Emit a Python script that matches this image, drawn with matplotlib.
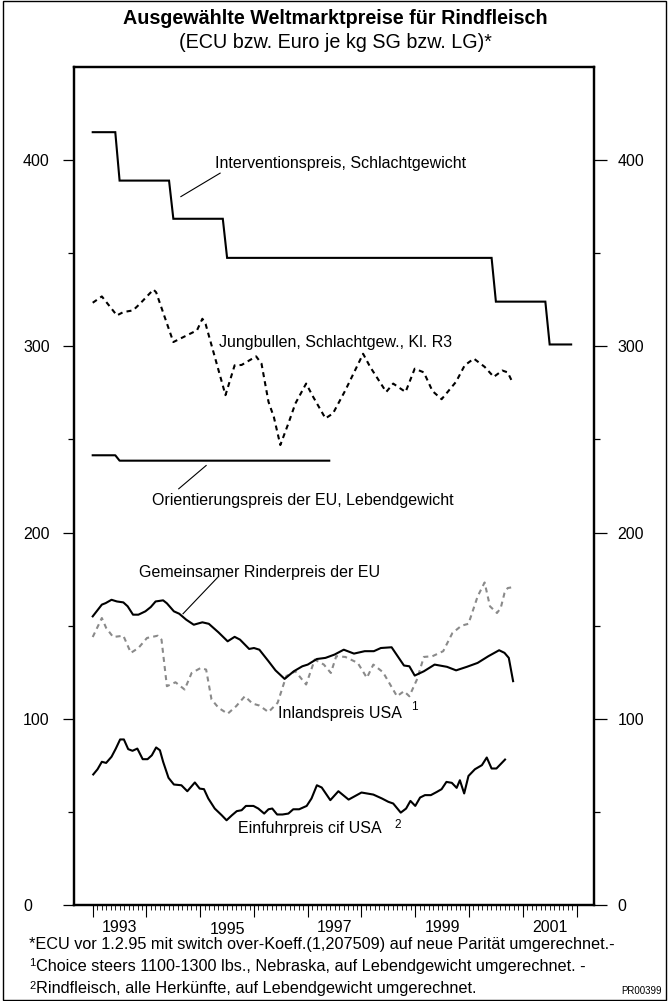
import matplotlib
matplotlib.use('Agg')
import matplotlib.pyplot as plt
import matplotlib.transforms as mtransforms
from matplotlib.patches import Rectangle
import numpy as np

plt.rcParams['font.family'] = ['Liberation Sans', 'DejaVu Sans']

# ---------------- data ----------------
interv_years = [1993.0, 1993.42, 1993.5, 1994.42, 1994.5, 1995.42, 1995.5,
                2000.42, 2000.5, 2001.42, 2001.5, 2001.9]
interv_vals = [415, 415, 389, 389, 368.5, 368.5, 347.5, 347.5, 324, 324, 301, 301]

orient_years = [1993.0, 1993.42, 1993.5, 1997.4]
orient_vals = [241.5, 241.5, 238.6, 238.6]

jb_years = [1993.0, 1993.17, 1993.45, 1993.57, 1993.75, 1993.88, 1994.13, 1994.18,
            1994.5, 1994.94, 1995.04, 1995.1, 1995.47, 1995.64, 1995.77, 1996.04,
            1996.14, 1996.27, 1996.37, 1996.49, 1996.64, 1996.77, 1996.97, 1997.1,
            1997.33, 1997.47, 1997.7, 1998.03, 1998.16, 1998.36, 1998.46, 1998.59,
            1998.69, 1998.82, 1998.99, 1999.16, 1999.32, 1999.49, 1999.76, 1999.92,
            2000.09, 2000.29, 2000.46, 2000.62, 2000.72, 2000.82]
jb_vals = [323.4, 326.8, 316.6, 318.4, 319.3, 322.9, 330.5, 329,
           302.3, 308.6, 314.8, 312, 273.8, 289.8, 290, 294.6,
           290.7, 270.2, 262, 247, 258.6, 269.3, 280, 272.9,
           261.3, 264, 276.4, 296, 289, 280, 275.5, 280,
           278, 275.5, 288, 286, 276, 271.6, 281, 289.8,
           293.4, 289, 283.6, 287, 286, 280]

eu_years = [1993.0, 1993.17, 1993.24, 1993.35, 1993.45, 1993.57, 1993.65, 1993.75,
            1993.85, 1993.98, 1994.08, 1994.17, 1994.31, 1994.38, 1994.51, 1994.61,
            1994.74, 1994.88, 1994.94, 1995.04, 1995.16, 1995.34, 1995.51, 1995.64,
            1995.74, 1995.91, 1996.0, 1996.1, 1996.27, 1996.4, 1996.57, 1996.74,
            1996.9, 1997.0, 1997.17, 1997.33, 1997.5, 1997.67, 1997.86, 1998.06,
            1998.23, 1998.36, 1998.56, 1998.79, 1998.89, 1998.99, 1999.16, 1999.36,
            1999.59, 1999.76, 1999.96, 2000.16, 2000.36, 2000.56, 2000.66, 2000.74,
            2000.82]
eu_vals = [155, 161.3, 162.1, 163.9, 163, 162.5, 160.4, 155.9,
           155.9, 157.7, 160, 163, 163.6, 162, 157.7, 156.4,
           153.2, 150.5, 151, 151.8, 151, 146.4, 141.6, 144,
           142.5, 137.5, 138, 137.1, 130.9, 126, 121.4, 125.5,
           128.2, 129.1, 132.1, 132.7, 134.5, 137.1, 135, 136.3,
           136.3, 138, 138.4, 128.6, 128.2, 123.2, 125.5, 129.1,
           127.9, 126, 127.9, 130, 133.6, 136.8, 135.4, 132.7,
           120.2]

usa_years = [1993.0, 1993.17, 1993.25, 1993.38, 1993.57, 1993.71, 1993.85, 1994.01,
             1994.21, 1994.28, 1994.38, 1994.54, 1994.71, 1994.84, 1995.01, 1995.11,
             1995.21, 1995.34, 1995.51, 1995.67, 1995.83, 1995.97, 1996.1, 1996.27,
             1996.44, 1996.6, 1996.77, 1996.97, 1997.13, 1997.3, 1997.43, 1997.53,
             1997.7, 1997.93, 1998.1, 1998.22, 1998.4, 1998.66, 1998.79, 1998.89,
             1999.03, 1999.16, 1999.32, 1999.52, 1999.69, 1999.86, 1999.99, 2000.16,
             2000.29, 2000.39, 2000.52, 2000.59, 2000.66, 2000.72, 2000.82]
usa_vals = [143.9, 154.1, 148.8, 143.9, 144.6, 135.4, 138, 143.4,
            144.6, 142.5, 117.5, 119.6, 115.7, 124.6, 127.3, 126.4,
            110.4, 105.9, 102.7, 106.8, 112.1, 108.2, 107.1, 103.6,
            108.6, 122.9, 125.5, 118.4, 131.8, 129.1, 124.6, 133.6,
            133.2, 130, 122, 129.1, 125, 112.1, 114.8, 112.1,
            121, 133.2, 133.6, 136.3, 146, 150, 151, 165.7,
            173.2, 160.4, 156.8, 159.5, 167.5, 170.2, 170.7]

imp_years = [1993.01, 1993.09, 1993.17, 1993.25, 1993.35, 1993.43, 1993.51, 1993.58,
             1993.66, 1993.74, 1993.83, 1993.93, 1994.02, 1994.1, 1994.18, 1994.25,
             1994.31, 1994.41, 1994.51, 1994.65, 1994.76, 1994.9, 1994.99, 1995.07,
             1995.15, 1995.27, 1995.4, 1995.49, 1995.59, 1995.68, 1995.77, 1995.85,
             1995.99, 1996.08, 1996.19, 1996.27, 1996.34, 1996.43, 1996.53, 1996.64,
             1996.73, 1996.84, 1996.98, 1997.07, 1997.17, 1997.26, 1997.42, 1997.57,
             1997.76, 1998.0, 1998.22, 1998.38, 1998.5, 1998.59, 1998.73, 1998.83,
             1998.91, 1999.0, 1999.09, 1999.18, 1999.29, 1999.4, 1999.49, 1999.58,
             1999.68, 1999.77, 1999.83, 1999.91, 1999.99, 2000.11, 2000.24, 2000.33,
             2000.42, 2000.51, 2000.67]
imp_vals = [70.1, 72.9, 76.9, 76.3, 79.6, 84, 88.9, 88.9,
            83.7, 82.8, 84, 78.3, 78.3, 80.4, 84.6, 83.1,
            76.9, 68.3, 64.7, 64.3, 61.1, 65.8, 62.5, 62.2,
            57.2, 51.8, 48.2, 45.5, 48.2, 50.4, 50.9, 53.2,
            53.2, 51.8, 49.1, 51.4, 51.8, 48.6, 48.6, 49.1,
            51.4, 51.4, 53.2, 57.2, 64.3, 63.1, 56.3, 61.1,
            56.6, 60.4, 59.3, 57.2, 55.4, 54.5, 49.6, 51.8,
            55.9, 53.2, 57.7, 59, 59, 60.7, 62.2, 66.1,
            65.6, 62.9, 67, 59.9, 69.3, 72.9, 75.1, 79.2,
            73.3, 73.3, 78.1]

year_labels = ['1993', '1995', '1997', '1999', '2001']
year_label_pos = [1993.5, 1995.5, 1997.5, 1999.5, 2001.5]
y_major = [0, 100, 200, 300, 400]
y_minor = [50, 150, 250, 350]

# ---------------- figure ----------------
W, H = 670, 1001
fig = plt.figure(figsize=(6.7, 10.01), dpi=100)
fig.patch.set_facecolor('white')
fig.patches.append(Rectangle((3 / W, 1 / H), 663 / W, 999 / H, transform=fig.transFigure,
                             fill=False, edgecolor='black', linewidth=1.0))

def fx(px):
    return px / W

def fy(py):
    return 1 - py / H

AX_L, AX_R, AX_T, AX_B = 74, 594, 67, 905
ax = fig.add_axes([fx(AX_L), fy(AX_B), fx(AX_R) - fx(AX_L), fy(AX_T) - fy(AX_B)])
ax.set_xlim(1992.652, 2002.325)
ax.set_ylim(0, 450)
for s in ax.spines.values():
    s.set_linewidth(1.6)

tick_fs = 11.5
ax.set_yticks(y_major)
ax.set_yticks(y_minor, minor=True)
left_len_pt = 8
left_pad_pt = (AX_L - 23) * 0.72 - left_len_pt
ax.tick_params(axis='y', which='major', direction='out', length=left_len_pt, width=0.9,
               labelsize=tick_fs, pad=left_pad_pt)
ax.tick_params(axis='y', which='minor', direction='out', length=4, width=0.9)
for lab in ax.get_yticklabels():
    lab.set_horizontalalignment('left')

ax2 = ax.twinx()
ax2.set_ylim(0, 450)
ax2.set_yticks(y_major)
ax2.set_yticks(y_minor, minor=True)
ax2.tick_params(axis='y', which='major', direction='out', length=9.4, width=0.9,
                labelsize=tick_fs, pad=7.5)
ax2.tick_params(axis='y', which='minor', direction='out', length=4, width=0.9)
for s in ax2.spines.values():
    s.set_linewidth(1.6)

years = np.arange(1993, 2003)
ax.set_xticks(years)
ax.set_xticklabels([])
ax.set_xticks(np.arange(1993, 2002, 1 / 12.0), minor=True)
ax.tick_params(axis='x', which='major', direction='out', length=8.5, width=0.8)
ax.tick_params(axis='x', which='minor', direction='out', length=3.8, width=0.6)

trans = mtransforms.blended_transform_factory(ax.transData, ax.transAxes)
for lab, pos in zip(year_labels, year_label_pos):
    dy = 25 if lab == '1995' else 22
    ax.text(pos, -dy / 838.0, lab, transform=trans, ha='center', va='center', fontsize=11.5)

# ---------------- series ----------------
lw = 1.5
ax.plot(interv_years, interv_vals, color='black', lw=lw, solid_joinstyle='miter')
ax.plot(orient_years, orient_vals, color='black', lw=lw)
ax.plot(jb_years, jb_vals, color='black', lw=lw, linestyle=(0, (2.4, 2.0)))
ax.plot(usa_years, usa_vals, color='#8a8a8a', lw=lw, linestyle=(0, (2.4, 2.0)))
ax.plot(eu_years, eu_vals, color='black', lw=lw)
ax.plot(imp_years, imp_vals, color='black', lw=lw)

# ---------------- annotations ----------------
fs = 11.5
ax.text(1995.27, 398, 'Interventionspreis, Schlachtgewicht', fontsize=fs, va='center', ha='left')
ax.plot([1995.37, 1994.64], [393, 380.4], color='black', lw=0.8)

ax.text(1995.34, 302.3, 'Jungbullen, Schlachtgew., Kl. R3', fontsize=fs, va='center', ha='left')

ax.text(1994.1, 217, 'Orientierungspreis der EU, Lebendgewicht', fontsize=fs, va='center', ha='left')
ax.plot([1995.11, 1994.6], [236, 223.5], color='black', lw=0.8)

ax.text(1993.86, 178.6, 'Gemeinsamer Rinderpreis der EU', fontsize=fs, va='center', ha='left')
ax.plot([1995.34, 1994.68], [176.4, 156.4], color='black', lw=0.8)

ax.text(1996.44, 102.7, 'Inlandspreis USA', fontsize=fs, va='center', ha='left')
ax.text(1998.93, 106.4, '1', fontsize=8.5, va='center', ha='left')

ax.text(1995.71, 41, 'Einfuhrpreis cif USA', fontsize=fs, va='center', ha='left')
ax.text(1998.62, 43.2, '2', fontsize=8.5, va='center', ha='left')

# ---------------- titles / footnotes ----------------
fig.text(0.5, fy(18), 'Ausgewählte Weltmarktpreise für Rindfleisch', ha='center', va='center',
         fontsize=14.2, fontweight='bold')
fig.text(0.5, fy(43), '(ECU bzw. Euro je kg SG bzw. LG)*', ha='center', va='center', fontsize=14.2)

foot_fs = 11.7
fig.text(fx(29), fy(944), '*ECU vor 1.2.95 mit switch over-Koeff.(1,207509) auf neue Parität umgerechnet.-',
         ha='left', va='center', fontsize=foot_fs)
fig.text(fx(29), fy(963), '1', ha='left', va='center', fontsize=8)
fig.text(fx(36), fy(966), 'Choice steers 1100-1300 lbs., Nebraska, auf Lebendgewicht umgerechnet. -',
         ha='left', va='center', fontsize=foot_fs)
fig.text(fx(29), fy(986), '2', ha='left', va='center', fontsize=8)
fig.text(fx(36), fy(989), 'Rindfleisch, alle Herkünfte, auf Lebendgewicht umgerechnet.',
         ha='left', va='center', fontsize=foot_fs)
fig.text(fx(662), fy(991), 'PR00399', ha='right', va='center', fontsize=7)

fig.savefig('out.png', dpi=100)
